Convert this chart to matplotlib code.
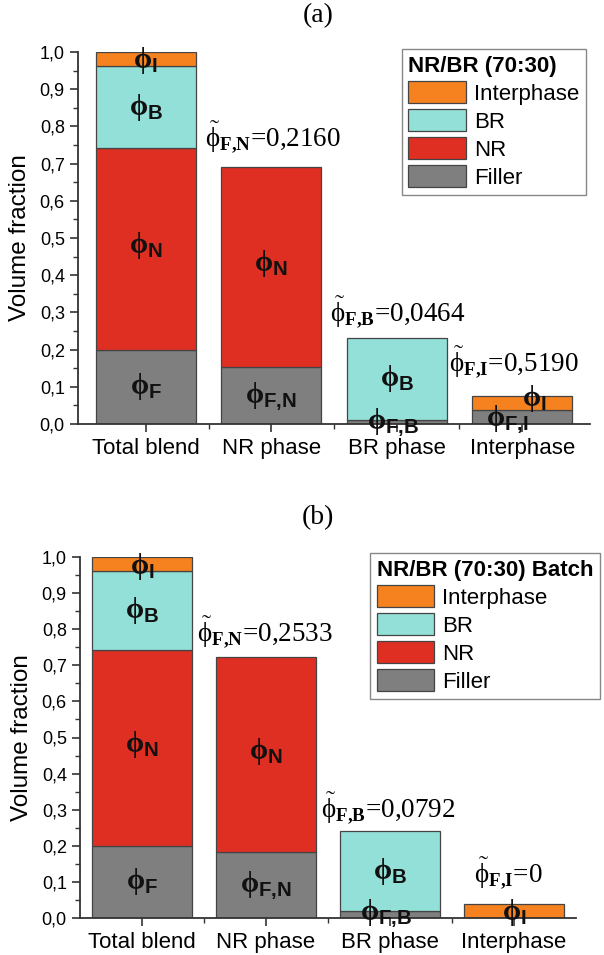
import numpy as np
import matplotlib
matplotlib.use("Agg")
import matplotlib.pyplot as plt
from matplotlib.ticker import MultipleLocator, FixedLocator, FuncFormatter
from matplotlib.patches import Patch

plt.rcParams['font.family'] = ['Liberation Sans', 'DejaVu Sans']
plt.rcParams['mathtext.fontset'] = 'custom'
plt.rcParams['mathtext.rm'] = 'Liberation Serif'
plt.rcParams['mathtext.it'] = 'Liberation Serif'
plt.rcParams['mathtext.bf'] = 'Liberation Serif:bold'
plt.rcParams['mathtext.sf'] = 'Liberation Sans:bold'

# Data
categories = ['Total blend', 'NR phase', 'BR phase', 'Interphase']
series = ['Filler', 'NR', 'BR', 'Interphase']

filler_a = [0.200, 0.152, 0.011, 0.037]
nr_a = [0.542, 0.540, 0.0, 0.0]
br_a = [0.220, 0.0, 0.220, 0.0]
inter_a = [0.038, 0.0, 0.0, 0.038]
phi_tilde_a = ['0,2160', '0,0464', '0,5190']

filler_b = [0.200, 0.183, 0.019, 0.0]
nr_b = [0.541, 0.539, 0.0, 0.0]
br_b = [0.219, 0.0, 0.221, 0.0]
inter_b = [0.040, 0.0, 0.0, 0.040]
phi_tilde_b = ['0,2533', '0,0792', '0']

colors = {'Filler': '#7f7f7f', 'NR': '#df2f22', 'BR': '#92e0d8', 'Interphase': '#f5821f'}
edge = '#444444'


def phi(sub):
    return r'$\mathbf{\phi}_{\mathsf{' + sub.replace(',', '{,}') + '}}$'


def draw_panel(ax, filler, nr, br, inter, tildes, legend_title, xlim, tilde_pos, leg_anchor):
    x = np.arange(len(categories))
    bottom = np.zeros(len(categories))
    for name, vals in zip(series, [filler, nr, br, inter]):
        vals = np.array(vals)
        mask = vals > 0
        ax.bar(x[mask], vals[mask], 0.8, bottom=bottom[mask], color=colors[name],
               edgecolor=edge, linewidth=0.9, zorder=2)
        bottom += vals

    ax.set_xlim(*xlim)
    ax.set_ylim(0, 1.0)
    ax.spines['top'].set_visible(False)
    ax.spines['right'].set_visible(False)
    for s in ['left', 'bottom']:
        ax.spines[s].set_linewidth(1.3)
        ax.spines[s].set_color('#333333')
    ax.yaxis.set_major_locator(MultipleLocator(0.1))
    ax.yaxis.set_minor_locator(MultipleLocator(0.05))
    ax.yaxis.set_major_formatter(FuncFormatter(lambda v, p: f'{v:.1f}'.replace('.', ',')))
    ax.set_xticks(x)
    ax.set_xticklabels(categories, fontsize=16)
    ax.xaxis.set_minor_locator(FixedLocator(x[:-1] + 0.5))
    ax.tick_params(axis='y', which='major', labelsize=13, length=6, width=1.2, color='#333333')
    ax.tick_params(axis='y', which='minor', length=3.5, width=1.0, color='#333333')
    ax.tick_params(axis='x', which='major', length=6, width=1.2, color='#333333', pad=4)
    ax.tick_params(axis='x', which='minor', length=3.5, width=1.0, color='#333333')
    ax.set_ylabel('Volume fraction', fontsize=17.5, labelpad=6)

    # phi labels inside the bars
    f, n, b, i = [np.array(v) for v in (filler, nr, br, inter)]
    lab = dict(fontsize=21, ha='center', va='center', zorder=4, color='#111111')
    ax.text(0, f[0] + n[0] + b[0] + i[0] / 2 - 0.005, phi('I'), **lab)
    ax.text(0, f[0] + n[0] + b[0] / 2, phi('B'), **lab)
    ax.text(0, f[0] + n[0] / 2 + 0.01, phi('N'), **lab)
    ax.text(0, f[0] / 2, phi('F'), **lab)
    ax.text(1, f[1] + n[1] / 2 + 0.01, phi('N'), **lab)
    ax.text(1, f[1] / 2, phi('F,N'), **lab)
    ax.text(2, f[2] + b[2] / 2, phi('B'), **lab)
    ax.text(1.97, f[2] - 0.005, phi('F,B'), **lab)
    if f[3] > 0:
        ax.text(3.1, f[3] + i[3] / 2 + 0.012, phi('I'), **lab)
        ax.text(2.88, f[3] / 2 - 0.005, phi('F,I'), **lab)
    else:
        ax.text(3, i[3] / 2 - 0.005, phi('I'), **lab)

    # tilde annotations
    subs = ['F{,}N', 'F{,}B', 'F{,}I']
    for (tx, ty), sub, val in zip(tilde_pos, subs, tildes):
        ax.text(tx, ty, r'$\tilde{\phi}_{\mathbf{' + sub + '}}$=' + val, fontsize=19.5,
                family='Liberation Serif', ha='left', va='center', zorder=4)

    handles = [Patch(facecolor=colors[s], edgecolor=edge, linewidth=0.9)
               for s in ['Interphase', 'BR', 'NR', 'Filler']]
    leg = ax.legend(handles, ['Interphase', 'BR', 'NR', 'Filler'], title=legend_title,
                    loc='upper right', bbox_to_anchor=leg_anchor, fontsize=16,
                    title_fontproperties={'weight': 'bold', 'size': 16},
                    fancybox=False, edgecolor='#888888', framealpha=1,
                    handlelength=2.6, handleheight=1.15, handletextpad=0.35,
                    labelspacing=0.2, borderpad=0.3, borderaxespad=0.0)
    leg._legend_box.align = 'left'
    leg.get_frame().set_linewidth(1.0)


fig = plt.figure(figsize=(6.04, 9.55), dpi=100)
ax_a = fig.add_axes([78 / 604, 1 - 424 / 955, 512 / 604, 372 / 955])
ax_b = fig.add_axes([80 / 604, 1 - 918 / 955, 496 / 604, 361 / 955])

draw_panel(ax_a, filler_a, nr_a, br_a, inter_a, phi_tilde_a, 'NR/BR (70:30)',
           (-0.54, 3.54), [(0.47, 0.77), (1.47, 0.30), (2.42, 0.165)], (0.992, 1.008))
draw_panel(ax_b, filler_b, nr_b, br_b, inter_b, phi_tilde_b, 'NR/BR (70:30) Batch',
           (-0.5, 3.5), [(0.44, 0.79), (1.44, 0.305), (2.68, 0.125)], (1.048, 1.011))

fig.text(318 / 604, 1 - 16 / 955, '(a)', fontsize=20, family='Liberation Serif', ha='center', va='center')
fig.text(318 / 604, 1 - 518 / 955, '(b)', fontsize=20, family='Liberation Serif', ha='center', va='center')

fig.savefig('out.png', dpi=100)
